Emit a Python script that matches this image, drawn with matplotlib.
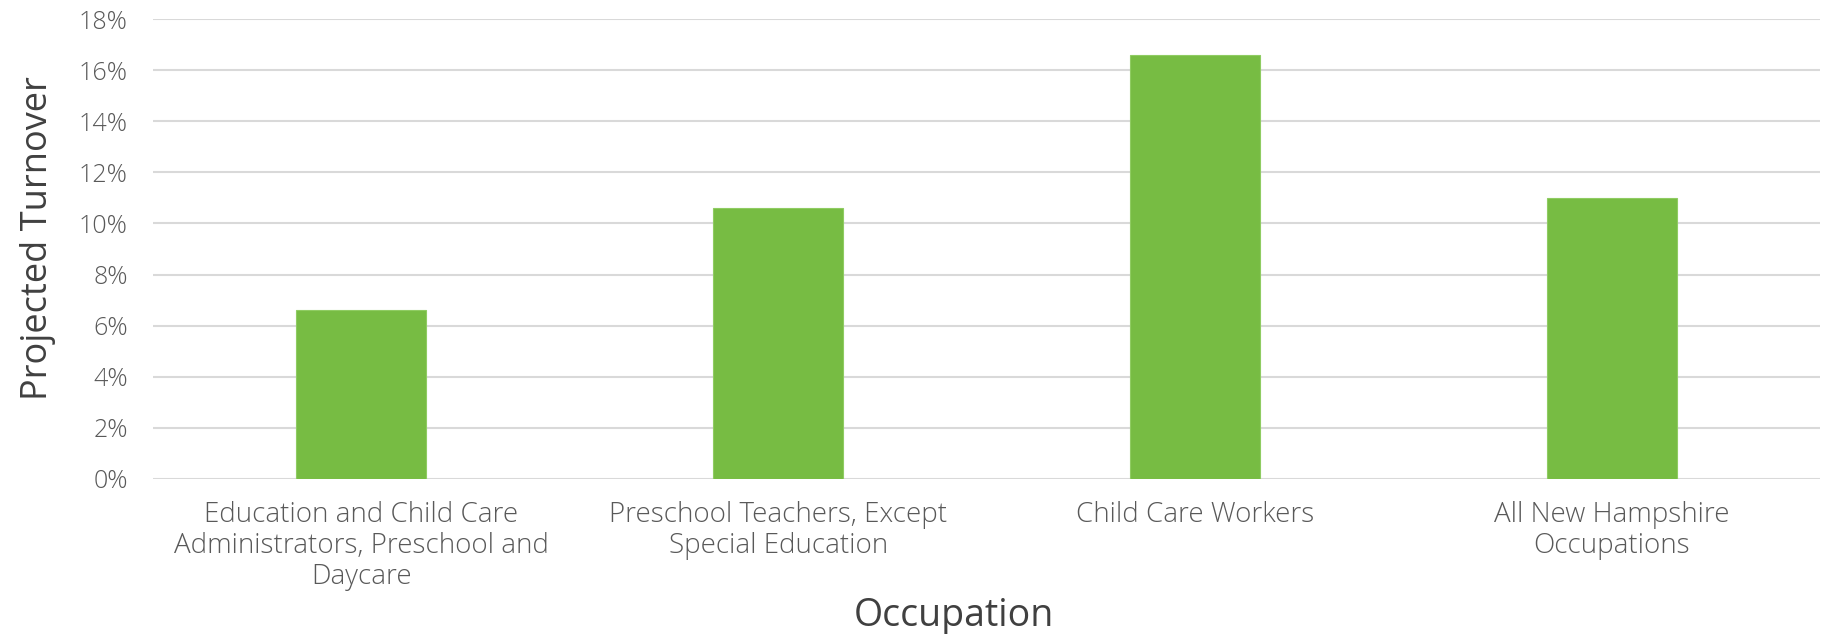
import matplotlib
matplotlib.use("Agg")
import matplotlib.pyplot as plt
from matplotlib.ticker import FuncFormatter

categories = [
    "Education and Child Care\nAdministrators, Preschool and\nDaycare",
    "Preschool Teachers, Except\nSpecial Education",
    "Child Care Workers",
    "All New Hampshire\nOccupations",
]
turnover = [6.6, 10.6, 16.6, 11.0]
yticks = [0, 2, 4, 6, 8, 10, 12, 14, 16, 18]

plt.rcParams['font.family'] = ['Open Sans', 'DejaVu Sans']

fig = plt.figure(figsize=(18.23, 6.34), dpi=100)
ax = fig.add_axes([0.0839, 0.2445, 0.9145, 0.7255])

x = range(len(categories))
ax.bar(x, turnover, width=0.312, color="#77bc43", edgecolor="#8fcc62", linewidth=0.8, zorder=3)

ax.set_ylim(0, 18)
ax.set_xlim(-0.5, len(categories) - 0.5)
ax.set_yticks(yticks)
ax.yaxis.set_major_formatter(FuncFormatter(lambda v, p: f"{v:.0f}%"))
ax.set_xticks(list(x))
ax.set_xticklabels(categories, fontsize=20, color="#595959", linespacing=1.13, fontweight="light")
for lbl in ax.get_yticklabels():
    lbl.set_fontweight("light")
ax.tick_params(axis="y", labelsize=18, labelcolor="#595959", length=0, pad=18)
ax.tick_params(axis="x", length=0, pad=16)
ax.grid(axis="y", color="#d9d9d9", linewidth=1.5, zorder=0)
for s in ax.spines.values():
    s.set_visible(False)

ax.set_ylabel("Projected Turnover", fontsize=26, color="#404040")
ax.set_xlabel("Occupation", fontsize=27, color="#404040")
ax.yaxis.set_label_coords(-0.058, 0.524)
ax.xaxis.set_label_coords(0.4805, -0.257)

fig.savefig("out.png", dpi=100)
